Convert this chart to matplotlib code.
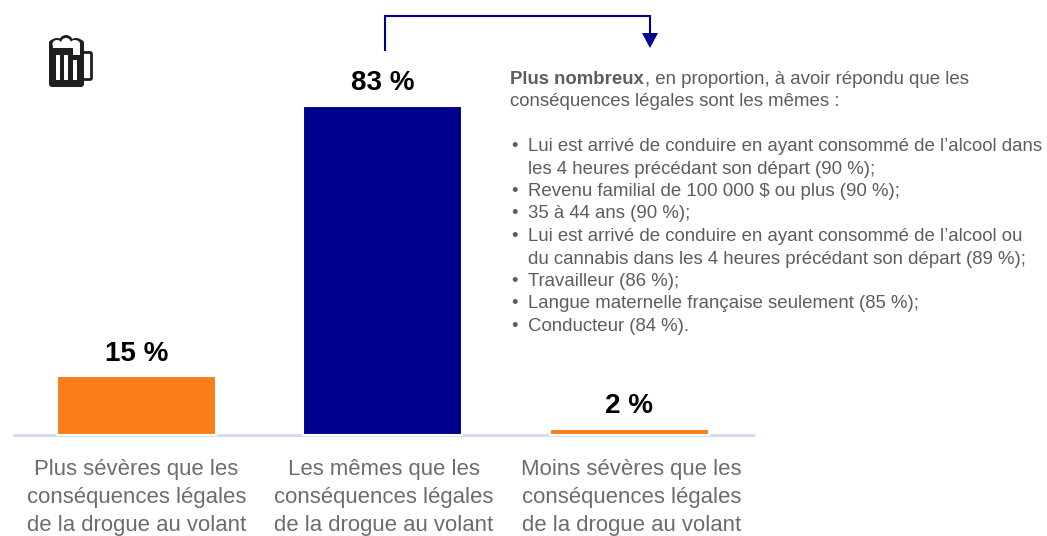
import matplotlib
matplotlib.use('Agg')
import matplotlib.pyplot as plt
from matplotlib.patches import FancyBboxPatch, Polygon, Rectangle, Ellipse

plt.rcParams['font.family'] = ['Liberation Sans', 'DejaVu Sans']

categories = ['Plus sévères que les\nconséquences légales\nde la drogue au volant',
              'Les mêmes que les\nconséquences légales\nde la drogue au volant',
              'Moins sévères que les\nconséquences légales\nde la drogue au volant']
values = [14.8, 83, 1.6]
value_labels = ['15 %', '83 %', '2 %']
bar_colors = ['#f97e1a', '#00008f', '#f97e1a']

intro_bold = 'Plus nombreux'
intro_rest = ', en proportion, à avoir répondu que les'
intro_second = 'conséquences légales sont les mêmes :'
bullets = [
    ['Lui est arrivé de conduire en ayant consommé de l’alcool dans',
     'les 4 heures précédant son départ (90 %);'],
    ['Revenu familial de 100 000 $ ou plus (90 %);'],
    ['35 à 44 ans (90 %);'],
    ['Lui est arrivé de conduire en ayant consommé de l’alcool ou',
     'du cannabis dans les 4 heures précédant son départ (89 %);'],
    ['Travailleur (86 %);'],
    ['Langue maternelle française seulement (85 %);'],
    ['Conducteur (84 %).'],
]

W, H = 1047, 536
NAVY = '#00008f'
GREY = '#6b6c70'
TEXT = '#5c5d62'
DARK = '#1f1f1f'
NOTE_SIZE = 13.4

fig = plt.figure(figsize=(W / 100, H / 100), dpi=100)

# bars, axes lined up on the pixel layout of the picture
ax = fig.add_axes([13 / W, 1 - 435 / H, 742 / W, 329 / H])
ax.bar(range(3), values, width=0.645, color=bar_colors, edgecolor='white',
       linewidth=1.5, zorder=3, clip_on=False)
ax.set_xlim(-0.5, 2.51)
ax.set_ylim(0, 83)
ax.set_xticks([])
ax.set_yticks([])
for s in ['top', 'left', 'right']:
    ax.spines[s].set_visible(False)
ax.spines['bottom'].set_color('#d3dcee')
ax.spines['bottom'].set_linewidth(2)
ax.spines['bottom'].set_capstyle('butt')
for i, v in enumerate(values):
    ax.annotate(value_labels[i], (i, v), xytext=(0, 16.3), textcoords='offset points',
                ha='center', va='center', fontsize=20, fontweight='bold', color='black')

# overlay in pixels for the notes, arrow and icon
ov = fig.add_axes([0, 0, 1, 1])
ov.set_xlim(0, W)
ov.set_ylim(H, 0)
ov.axis('off')

for x, c in zip([136.5, 384, 631.5], categories):
    for j, line in enumerate(c.split('\n')):
        ov.text(x, 470 + j * 28, line, ha='center', va='center', fontsize=15.9, color=GREY)

# arrow
ov.plot([384.5, 384.5, 650, 650], [50, 15.5, 15.5, 34], color=NAVY, lw=1.5,
        solid_joinstyle='miter')
ov.add_patch(Polygon([[642, 33], [658, 33], [650, 48]], closed=True, color=NAVY, lw=0))

# text block
ov.text(510, 79, intro_bold, fontsize=NOTE_SIZE, fontweight='bold', color=TEXT, va='center')
ov.text(645, 79, intro_rest, fontsize=NOTE_SIZE, color=TEXT, va='center')
ov.text(510, 101.5, intro_second, fontsize=NOTE_SIZE, color=TEXT, va='center')
y = 146.5
for item in bullets:
    ov.text(514, y, '•', fontsize=NOTE_SIZE, color=TEXT, va='center', ha='center')
    for line in item:
        ov.text(528, y, line, fontsize=NOTE_SIZE, color=TEXT, va='center')
        y += 22.5

# beer mug icon
ov.add_patch(FancyBboxPatch((84, 54), 6, 24, boxstyle='round,pad=1.5', fc='white', ec=DARK, lw=2))
ov.add_patch(FancyBboxPatch((52, 43), 29, 41, boxstyle='round,pad=3', fc=DARK, ec='none'))
for cx, cy, rx, ry in [(57, 44, 7.5, 6), (66, 42, 7, 7), (76, 44, 7.5, 6)]:
    ov.add_patch(Ellipse((cx, cy), rx * 2, ry * 2, fc=DARK, ec='none'))
for cx, cy, rx, ry in [(57, 44, 4.5, 4), (66, 43, 5, 5), (75, 44, 5, 4)]:
    ov.add_patch(Ellipse((cx, cy), rx * 2, ry * 2, fc='white', ec='none'))
ov.add_patch(Rectangle((53, 44), 27, 4, fc='white', ec='none'))
ov.add_patch(Rectangle((73, 44), 7, 11, fc='white', ec='none'))
for x0, y0 in [(56, 55), (64, 55), (73, 60)]:
    ov.add_patch(FancyBboxPatch((x0 + 0.5, y0 + 0.5), 3, 80 - y0 - 1, boxstyle='round,pad=0.5',
                                fc='white', ec='none'))

fig.savefig('out.png', dpi=100)
